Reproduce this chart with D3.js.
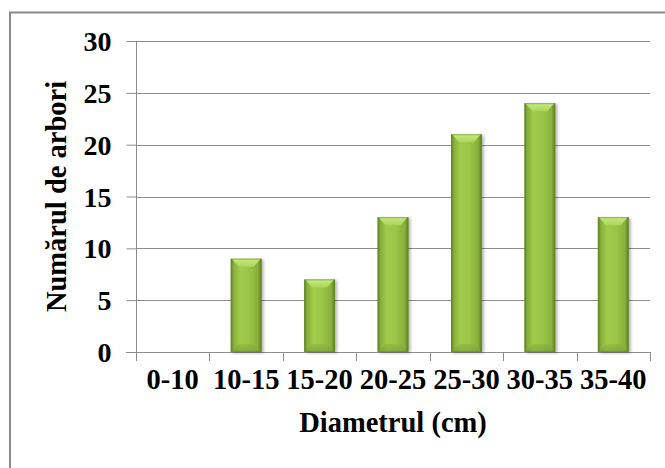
<!DOCTYPE html>
<html><head><meta charset="utf-8">
<script src="https://cdn.jsdelivr.net/npm/d3@7"></script>
<style>html,body{margin:0;padding:0;background:#fff;}svg{display:block;}</style>
</head><body>
<svg id="chart" width="665" height="468"></svg>
<script>
const categories = ["0-10","10-15","15-20","20-25","25-30","30-35","35-40"];
const values = [0, 9, 7, 13, 21, 24, 13];
const yTicks = [0, 5, 10, 15, 20, 25, 30];
const xTitle = "Diametrul (cm)";
const yTitle = "Numărul de arbori";

const svg = d3.select("#chart");
const font = "'Liberation Serif','Times New Roman',serif";
const L = 136, R = 650, T = 41, B = 352;

const defs = svg.append("defs");
const g1 = defs.append("linearGradient").attr("id","barH").attr("x1","0").attr("x2","1").attr("y1","0").attr("y2","0");
[[0,"#5d7d22"],[0.1,"#88b03b"],[0.3,"#a0cc4a"],[0.6,"#99c447"],[0.88,"#88b03b"],[1,"#5a7a20"]].forEach(([o,c])=>g1.append("stop").attr("offset",o).attr("stop-color",c));
const g2 = defs.append("linearGradient").attr("id","bevTop").attr("x1","0").attr("x2","0").attr("y1","0").attr("y2","1");
[[0,"#c8ea84"],[1,"#aad558"]].forEach(([o,c])=>g2.append("stop").attr("offset",o).attr("stop-color",c));
const g3 = defs.append("linearGradient").attr("id","bevBot").attr("x1","0").attr("x2","0").attr("y1","0").attr("y2","1");
[[0,"#8db540"],[1,"#749834"]].forEach(([o,c])=>g3.append("stop").attr("offset",o).attr("stop-color",c));
const f = defs.append("filter").attr("id","sh").attr("x","-20%").attr("y","-5%").attr("width","150%").attr("height","115%");
f.append("feDropShadow").attr("dx",2).attr("dy",1).attr("stdDeviation",1.5).attr("flood-color","#000").attr("flood-opacity",0.3);

// outer border
svg.append("rect").attr("x",10).attr("y",12.5).attr("width",670).attr("height",470)
  .attr("fill","#fff").attr("stroke","#8a8a8a").attr("stroke-width",2);

const x = d3.scaleBand().domain(categories).range([L, R]).paddingInner(0.58).paddingOuter(0.29);
const xb = d3.scaleBand().domain(categories).range([L, R]);
const y = d3.scaleLinear().domain([0, 30]).range([B, T]);

// gridlines
svg.append("g").selectAll("line").data(yTicks.filter(d=>d>0)).join("line")
  .attr("x1", L).attr("x2", R).attr("y1", d=>Math.round(y(d))+0.5).attr("y2", d=>Math.round(y(d))+0.5)
  .attr("stroke","#8c8c8c").attr("stroke-width",1);

// y axis
const yAxis = svg.append("g").attr("transform",`translate(${L+0.5},0)`)
  .call(d3.axisLeft(y).tickValues(yTicks).tickSize(10).tickPadding(15));
yAxis.select(".domain").attr("stroke","#8c8c8c").attr("d",`M0,${T}V${B}`);
yAxis.selectAll(".tick line").attr("stroke","#8c8c8c");
yAxis.selectAll(".tick text").attr("font-family",font).attr("font-weight","bold").attr("font-size","28px").attr("fill","#000").attr("dy","0.34em");

// x axis
const xAxis = svg.append("g").attr("transform",`translate(0,${B+0.5})`)
  .call(d3.axisBottom(xb).tickSize(0).tickPadding(30));
xAxis.select(".domain").attr("stroke","#8c8c8c").attr("d",`M${L-10},0H${R}`);
xAxis.selectAll(".tick text").attr("font-family",font).attr("font-weight","bold").attr("font-size","28.5px").attr("fill","#000").attr("dy","0.22em");
// category boundary ticks
svg.append("g").selectAll("line").data(categories.map(c=>xb(c)).concat([R])).join("line")
  .attr("x1",d=>Math.round(d)+0.5).attr("x2",d=>Math.round(d)+0.5).attr("y1",B).attr("y2",B+9)
  .attr("stroke","#8c8c8c");

// bars
const bars = svg.append("g").selectAll("g").data(categories.map((c,i)=>({c, v: values[i]}))).join("g")
  .filter(d=>d.v>0);
const bw = x.bandwidth();
bars.append("rect").attr("x",d=>x(d.c)).attr("y",d=>y(d.v)).attr("width",bw).attr("height",d=>y(0)-y(d.v))
  .attr("fill","url(#barH)").attr("filter","url(#sh)");
const bev = 8;
bars.append("path").attr("d",d=>{const x0=x(d.c), x1=x0+bw, y0=y(d.v);
  return `M${x0+1},${y0}H${x1-1}L${x1-bev},${y0+bev}H${x0+bev}Z`;}).attr("fill","url(#bevTop)");
bars.append("path").attr("d",d=>{const x0=x(d.c), x1=x0+bw, y0=y(0);
  return `M${x0+1},${y0}H${x1-1}L${x1-bev},${y0-bev}H${x0+bev}Z`;}).attr("fill","url(#bevBot)").attr("opacity",0.6);
bars.append("rect").attr("x",d=>x(d.c)+0.5).attr("y",d=>y(d.v)+0.5).attr("width",bw-1).attr("height",d=>y(0)-y(d.v)-1)
  .attr("fill","none").attr("stroke","#6a8c2a").attr("stroke-width",1).attr("opacity",0.6);

// axis titles
svg.append("text").attr("x",(L+R)/2).attr("y",432).attr("text-anchor","middle")
  .attr("font-family",font).attr("font-weight","bold").attr("font-size","28.5px").text(xTitle);
svg.append("text").attr("transform",`translate(66,${(T+B)/2}) rotate(-90)`).attr("text-anchor","middle")
  .attr("font-family",font).attr("font-weight","bold").attr("font-size","28.5px").text(yTitle);
</script>
</body></html>
